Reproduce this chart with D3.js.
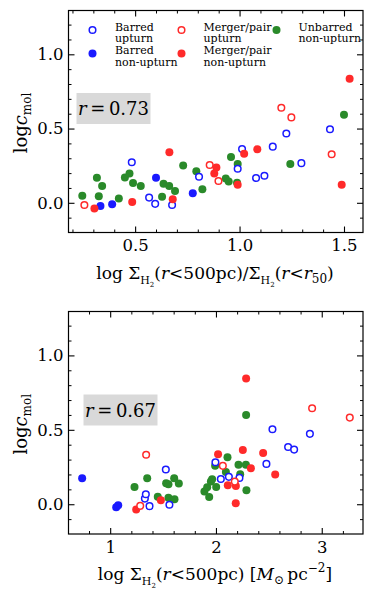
<!DOCTYPE html>
<html>
  <head>
    <script src="https://d3js.org/d3.v7.min.js"></script>
    <style>
      body { margin: 0; background: #fff; }
    </style>
  </head>
  <body>
    <svg id="chart"></svg>
    <script>
      // top panel: log Sigma(r<500pc)/Sigma(r<r50) vs log c_mol
      var topBarredUp = [[0.484,0.273],[0.567,0.035],[0.596,-0.007],[0.677,-0.015],[0.806,0.175],[0.991,0.229],[1.012,0.362],[1.079,0.167],[1.119,0.182],[1.159,0.378],[1.224,0.467],[1.296,0.267],[1.433,0.495]];
      var topBarredNon = [[0.334,-0.022],[0.39,-0.009],[0.60,0.169],[0.776,0.065]];
      var topMergerUp = [[0.257,-0.015],[0.857,0.255],[0.899,0.147],[1.2,0.64],[1.248,0.575],[1.441,0.327]];
      var topMergerNon = [[0.305,-0.038],[0.486,0.005],[0.664,0.34],[0.68,0.024],[0.889,0.238],[0.879,0.198],[0.991,0.122],[1.022,0.331],[1.085,0.36],[1.489,0.122],[1.527,0.835]];
      var topUnbarred = [[0.247,0.047],[0.317,0.169],[0.342,0.113],[0.326,0.044],[0.422,0.029],[0.451,0.171],[0.473,0.198],[0.49,0.133],[0.527,0.113],[0.629,0.04],[0.636,0.129],[0.663,0.113],[0.691,0.08],[0.73,0.251],[0.793,0.213],[0.822,0.091],[0.934,0.164],[0.948,0.144],[0.959,0.309],[0.991,0.262],[0.988,0.135],[1.243,0.262],[1.5,0.593]];

      // bottom panel: log Sigma(r<500pc) vs log c_mol
      var botBarredUp = [[1.328,0.038],[1.337,0.067],[1.372,-0.013],[1.526,0.233],[1.56,-0.003],[1.995,0.282],[2.046,0.17],[2.122,0.184],[2.222,0.177],[2.477,0.271],[2.534,0.504],[2.682,0.385],[2.739,0.367],[2.888,0.473]];
      var botBarredNon = [[0.735,0.175],[1.057,-0.02],[1.076,-0.007]];
      var botMergerUp = [[1.284,-0.011],[1.34,0.332],[2.065,0.258],[2.178,0.152],[2.909,0.645],[3.265,0.582]];
      var botMergerNon = [[1.246,-0.036],[1.479,0.027],[2.02,0.336],[2.112,0.128],[2.187,0.007],[2.188,0.123],[2.254,0.365],[2.285,0.845],[2.33,0.242],[2.446,0.345],[2.56,0.199]];
      var botUnbarred = [[1.23,0.116],[1.35,0.175],[1.45,0.051],[1.529,0.141],[1.551,0.134],[1.551,0.044],[1.605,0.175],[1.608,0.034],[1.649,0.139],[1.891,0.085],[1.917,0.114],[1.936,0.049],[1.952,0.152],[1.964,0.168],[2.002,0.116],[1.992,0.258],[2.094,0.217],[2.109,0.316],[2.213,0.266],[2.229,0.202],[2.283,0.266],[2.285,0.6],[2.288,0.094]];

      var legendLabels = [["Barred", "upturn"], ["Merger/pair", "upturn"], ["Unbarred", "non-upturn"], ["Barred", "non-upturn"], ["Merger/pair", "non-upturn"]];
      var yTicks = [0.0, 0.5, 1.0];
      var topXTicks = [0.5, 1.0, 1.5];
      var botXTicks = [1, 2, 3];
      var rValues = ["0.73", "0.67"];

      var BLUE = "#1a1aff", RED = "#ff2a2a", GREEN = "#2a8a2a";
      var SERIF = "DejaVu Serif";

      var svg = d3.select("#chart").attr("width", 374).attr("height", 606)
        .attr("font-family", SERIF);

      function addPanel(opt) {
        var x = d3.scaleLinear().domain(opt.xDomain).range([68.5, 363]);
        var y = d3.scaleLinear().domain([-0.2, 1.295]).range([opt.bottom, opt.top]);
        var g = svg.append("g");

        // frame
        g.append("rect")
          .attr("x", 68.5).attr("y", opt.top)
          .attr("width", 363 - 68.5).attr("height", opt.bottom - opt.top)
          .attr("fill", "none").attr("stroke", "#000").attr("stroke-width", 1.2);

        var yMinor = d3.range(-0.1, 1.29, 0.1).map(function (d) { return +d.toFixed(2); });
        var xMinor = opt.xMinor;

        // inward ticks on all four sides
        var axes = [
          [d3.axisBottom(x), "translate(0," + opt.bottom + ")", opt.xTicks, xMinor, true],
          [d3.axisTop(x), "translate(0," + opt.top + ")", opt.xTicks, xMinor, false],
          [d3.axisLeft(y), "translate(68.5,0)", yTicks, yMinor, true],
          [d3.axisRight(y), "translate(363,0)", yTicks, yMinor, false]
        ];
        axes.forEach(function (a, i) {
          var isX = i < 2;
          var major = a[0].tickValues(a[2]).tickSize(-6).tickPadding(isX ? 7 : 5)
            .tickFormat(a[4] ? d3.format(isX ? opt.xFmt : ".1f") : "");
          var ga = g.append("g").attr("transform", a[1]).call(major)
            .attr("font-family", SERIF);
          ga.select(".domain").remove();
          ga.selectAll("text").attr("font-size", 16.5).attr("fill", "#000");
          ga.selectAll("line").attr("stroke-width", 1.1);
          var minorAxis = (i === 0 ? d3.axisBottom(x) : i === 1 ? d3.axisTop(x) : i === 2 ? d3.axisLeft(y) : d3.axisRight(y))
            .tickValues(a[3].filter(function (v) { return a[2].indexOf(v) < 0; }))
            .tickSize(-3).tickFormat("");
          var gm = g.append("g").attr("transform", a[1]).call(minorAxis);
          gm.select(".domain").remove();
          gm.selectAll("line").attr("stroke-width", 1);
        });

        // r box
        var rg = g.append("g");
        rg.append("rect")
          .attr("x", opt.rBox[0]).attr("y", opt.rBox[1])
          .attr("width", 74).attr("height", 31)
          .attr("fill", "#d9d9d9");
        var rt = rg.append("text")
          .attr("x", opt.rBox[0] + 37).attr("y", opt.rBox[1] + 22)
          .attr("text-anchor", "middle").attr("font-size", 18);
        rt.append("tspan").attr("font-style", "italic").text("r");
        rt.append("tspan").text("\u2009=\u2009" + opt.r);

        // points
        var series = [
          [opt.data[4], GREEN, false],
          [opt.data[1], BLUE, false],
          [opt.data[0], BLUE, true],
          [opt.data[3], RED, false],
          [opt.data[2], RED, true]
        ];
        series.forEach(function (s) {
          g.append("g").selectAll("circle").data(s[0]).enter().append("circle")
            .attr("cx", function (d) { return x(d[0]); })
            .attr("cy", function (d) { return y(d[1]); })
            .attr("r", s[2] ? 3.3 : 4)
            .attr("fill", s[2] ? "#fff" : s[1])
            .attr("stroke", s[2] ? s[1] : "none")
            .attr("stroke-width", 1.5);
        });

        // y label
        var yl = g.append("text")
          .attr("transform", "translate(27," + ((opt.top + opt.bottom) / 2 + 1.5) + ") rotate(-90)")
          .attr("text-anchor", "middle").attr("font-size", 18);
        yl.append("tspan").text("log");
        yl.append("tspan").attr("font-style", "italic").text("c");
        yl.append("tspan").attr("font-size", 12).attr("dy", 4).text("mol");

        // x label
        var xl = g.append("text")
          .attr("x", 215).attr("y", opt.bottom + 46)
          .attr("text-anchor", "middle").attr("font-size", 17);
        opt.xLabel(xl);

        return { x: x, y: y };
      }

      function sigma(t) {
        t.append("tspan").text("\u03A3");
        t.append("tspan").attr("font-size", 11).attr("dy", 5).text("H");
        t.append("tspan").attr("font-size", 7).attr("dy", 3).text("2");
        t.append("tspan").attr("dy", -8).text("(");
        t.append("tspan").attr("font-style", "italic").text("r");
        t.append("tspan").text("<500pc)");
      }

      addPanel({
        top: 10.5, bottom: 232.5, xDomain: [0.181, 1.591], xFmt: ".1f",
        xTicks: topXTicks, xMinor: d3.range(0.2, 1.6, 0.1).map(function (d) { return +d.toFixed(2); }),
        rBox: [76.5, 93], r: rValues[0],
        data: [topBarredUp, topBarredNon, topMergerUp, topMergerNon, topUnbarred],
        xLabel: function (t) {
          t.append("tspan").text("log ");
          sigma(t);
          t.append("tspan").text("/\u03A3");
          t.append("tspan").attr("font-size", 11).attr("dy", 5).text("H");
          t.append("tspan").attr("font-size", 7).attr("dy", 3).text("2");
          t.append("tspan").attr("dy", -8).text("(");
          t.append("tspan").attr("font-style", "italic").text("r");
          t.append("tspan").text("<");
          t.append("tspan").attr("font-style", "italic").text("r");
          t.append("tspan").attr("font-size", 12).attr("dy", 4).text("50");
          t.append("tspan").attr("dy", -4).text(")");
        }
      });

      addPanel({
        top: 311.5, bottom: 534, xDomain: [0.606, 3.39], xFmt: "d",
        xTicks: botXTicks, xMinor: d3.range(0.8, 3.4, 0.2).map(function (d) { return +d.toFixed(2); }),
        rBox: [83.5, 394.5], r: rValues[1],
        data: [botBarredUp, botBarredNon, botMergerUp, botMergerNon, botUnbarred],
        xLabel: function (t) {
          t.append("tspan").text("log ");
          sigma(t);
          t.append("tspan").text(" [");
          t.append("tspan").attr("font-style", "italic").text("M");
          t.append("tspan").attr("font-size", 12).attr("dy", 4).text("\u2299");
          t.append("tspan").attr("dy", -4).text("\u2009pc");
          t.append("tspan").attr("font-size", 12).attr("dy", -8).text("\u22122");
          t.append("tspan").attr("dy", 8).text("]");
        }
      });

      // legend (top panel)
      var legPos = [[92.5, 30, 115], [181.5, 30, 203.5], [276.5, 30, 298.5], [92.5, 53.5, 115], [181.5, 53.5, 203.5]];
      var legStyle = [[BLUE, true], [RED, true], [GREEN, false], [BLUE, false], [RED, false]];
      var lg = svg.append("g");
      legendLabels.forEach(function (lab, i) {
        var p = legPos[i], s = legStyle[i];
        lg.append("circle").attr("cx", p[0]).attr("cy", p[1])
          .attr("r", s[1] ? 3.3 : 4)
          .attr("fill", s[1] ? "#fff" : s[0])
          .attr("stroke", s[1] ? s[0] : "none").attr("stroke-width", 1.5);
        lg.append("text").attr("x", p[2]).attr("y", p[1] + 0.5).attr("font-size", 11).text(lab[0]);
        lg.append("text").attr("x", p[2]).attr("y", p[1] + 12).attr("font-size", 11).text(lab[1]);
      });
    </script>
  </body>
</html>
